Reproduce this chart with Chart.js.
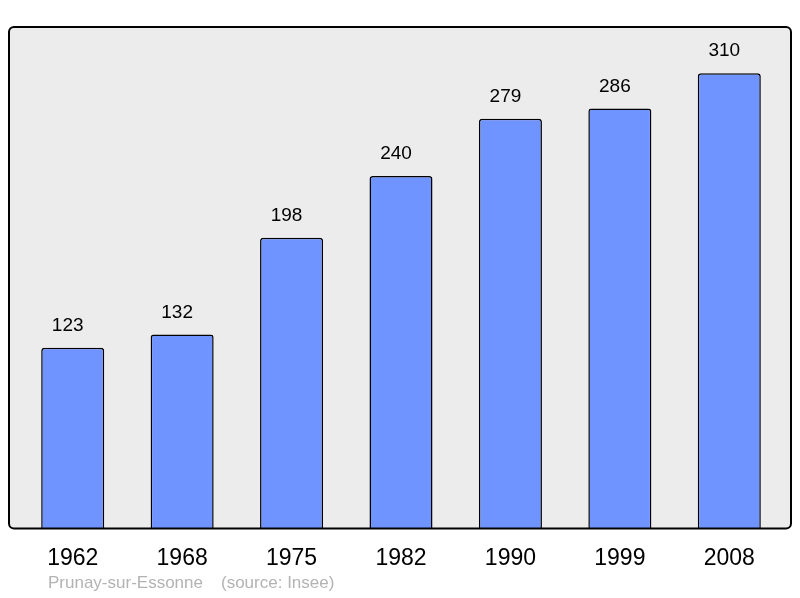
<!DOCTYPE html>
<html>
<head>
<meta charset="utf-8">
<script src="https://cdn.jsdelivr.net/npm/chart.js@4/dist/chart.umd.min.js"></script>
<style>
  body { margin: 0; background: #ffffff; }
  #wrap { width: 800px; height: 598px; }
</style>
</head>
<body>
<div id="wrap"><canvas id="popChart" width="800" height="598"></canvas></div>
<script>
// DATA

const years = ["1962", "1968", "1975", "1982", "1990", "1999", "2008"];

const population = [123, 132, 198, 240, 279, 286, 310];

const townName = "Prunay-sur-Essonne";

const sourceText = "(source: Insee)";


// BACKGROUND BOX + VALUE LABELS + FOOTER

const decorPlugin = {

    id: "decor",

    beforeDraw(chart) {

        const { ctx, chartArea } = chart;
        const x0 = 9, y0 = chartArea.top, x1 = 791, y1 = chartArea.bottom;

        ctx.save();
        ctx.beginPath();
        ctx.roundRect(x0, y0, x1 - x0, y1 - y0, 5);
        ctx.fillStyle = "#ececec";
        ctx.fill();
        ctx.restore();
    },

    afterDatasetsDraw(chart) {

        const { ctx, chartArea } = chart;
        const x0 = 9, y0 = chartArea.top, x1 = 791, y1 = chartArea.bottom;

        ctx.save();

        // box outline on top of bars
        ctx.beginPath();
        ctx.roundRect(x0, y0, x1 - x0, y1 - y0, 5);
        ctx.lineWidth = 2;
        ctx.strokeStyle = "#000000";
        ctx.stroke();

        // values above bars (slightly left of centre, as in the original)
        ctx.font = "19px 'Liberation Sans', Arial, sans-serif";
        ctx.fillStyle = "#000000";
        ctx.textAlign = "center";
        ctx.textBaseline = "middle";

        chart.getDatasetMeta(0).data.forEach((bar, i) => {
            ctx.fillText(String(population[i]), bar.x - 5, bar.y - 22);
        });

        // footer
        ctx.font = "17px 'Liberation Sans', Arial, sans-serif";
        ctx.fillStyle = "#b3b3b3";
        ctx.textAlign = "left";
        ctx.fillText(townName, 48, 583);
        ctx.fillText(sourceText, 221, 583);

        ctx.restore();
    }
};


// CREATE CHART

new Chart(document.getElementById("popChart"), {

    type: "bar",

    data: {

        labels: years,

        datasets: [{

            data: population,

            backgroundColor: "#7094ff",

            borderColor: "#000000",

            borderWidth: 1.5,

            borderRadius: 3,

            borderSkipped: "bottom",

            barPercentage: 0.576,

            categoryPercentage: 1
        }]
    },

    options: {

        responsive: false,

        animation: false,

        layout: {
            padding: { left: 18, right: 16, top: 27, bottom: 18 }
        },

        plugins: {
            legend: { display: false },
            tooltip: { enabled: false }
        },

        scales: {

            x: {
                grid: { display: false },
                border: { display: false },
                ticks: {
                    color: "#000000",
                    padding: 8,
                    font: { family: "'Liberation Sans', Arial, sans-serif", size: 23 }
                }
            },

            y: {
                display: false,
                min: 0,
                max: 341.5
            }
        }
    },

    plugins: [decorPlugin]
});
</script>
</body>
</html>
